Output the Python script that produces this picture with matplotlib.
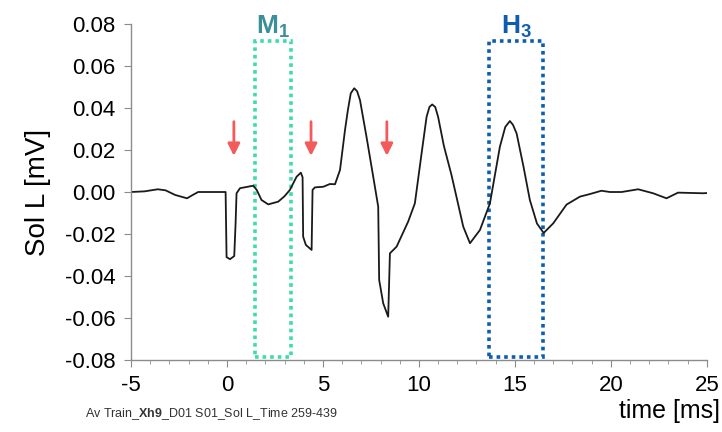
import matplotlib
matplotlib.use("Agg")
import matplotlib.pyplot as plt
from matplotlib.ticker import MultipleLocator
from matplotlib.patches import Rectangle

plt.rcParams['font.family'] = ['Liberation Sans', 'DejaVu Sans']
plt.rcParams['mathtext.fontset'] = 'custom'
plt.rcParams['mathtext.bf'] = 'Liberation Sans:bold'
plt.rcParams['mathtext.rm'] = 'Liberation Sans'
plt.rcParams['axes.unicode_minus'] = False

# averaged trace
time_ms = [-5.0, -4.3, -3.6, -3.2, -2.7, -2.08, -1.8, -1.5, -0.07, -0.02, 0.16, 0.38,
           0.45, 0.5, 0.68, 1.37, 1.55, 1.8, 2.15, 2.67, 3.0, 3.28, 3.63, 3.85, 3.94,
           3.97, 4.11, 4.41, 4.46, 4.58, 5.02, 5.36, 5.63, 5.89, 6.15, 6.3, 6.45, 6.63,
           6.78, 6.93, 7.27, 7.62, 7.88, 7.93, 8.14, 8.40, 8.49, 8.84, 9.44, 9.79, 10.14,
           10.40, 10.55, 10.69, 10.85, 11.0, 11.3, 11.7, 12.31, 12.66, 13.18, 13.70, 14.22,
           14.5, 14.74, 14.9, 15.09, 15.45, 15.78, 16.15, 16.5, 17.0, 17.69, 18.39, 18.9,
           19.51, 19.95, 20.56, 21.42, 22.2, 22.9, 23.5, 24.8, 25.0]
sol_mv = [0.0, 0.0003, 0.0013, 0.0008, -0.0014, -0.003, -0.0015, 0.0, 0.0, -0.031, -0.032, -0.0305,
          -0.015, -0.0006, 0.0018, 0.003, 0.001, -0.0038, -0.0059, -0.0046, -0.002, 0.001, 0.0073, 0.0092, 0.007,
          -0.0213, -0.0252, -0.0276, 0.001, 0.0022, 0.0025, 0.0038, 0.0037, 0.0105, 0.0295, 0.039, 0.047, 0.0494,
          0.048, 0.0438, 0.0263, 0.0073, -0.007, -0.0419, -0.053, -0.0594, -0.0292, -0.026, -0.0141, -0.0054, 0.0184,
          0.0358, 0.0405, 0.0417, 0.0405, 0.0358, 0.022, 0.008, -0.0165, -0.0244, -0.0181, -0.0054, 0.0216,
          0.031, 0.0338, 0.032, 0.0279, 0.012, -0.0038, -0.015, -0.0195, -0.0149, -0.006, -0.0022, -0.001,
          0.0006, 0.0, 0.0, 0.0013, -0.0006, -0.003, -0.0003, -0.0006, -0.0005]

# stimulus arrows
arrow_x = [0.36, 4.38, 8.33]

# analysis windows
windows = ['M', 'H']
window_sub = ['1', '3']
window_start = [1.46, 13.66]
window_end = [3.32, 16.48]
window_color = ['#3fdcaa', '#0d5fae']
label_color = ['#3a9098', '#0d5fae']

gray = '#8c8c8c'

fig = plt.figure(figsize=(7.22, 4.32), dpi=100)
ax = fig.add_axes([0.1814, 0.1667, 0.7976, 0.7777])

ax.plot(time_ms, sol_mv, color='#1a1a1a', lw=1.3)

for i in range(len(windows)):
    rect = Rectangle((window_start[i], -0.0785), window_end[i] - window_start[i], 0.0785 + 0.0718,
                     fill=False, ec=window_color[i], lw=2.6, ls=(0, (1, 1.1)), clip_on=False)
    ax.add_patch(rect)
    ax.text((window_start[i] + window_end[i]) / 2, 0.0755,
            r'$\mathbf{%s}_\mathbf{%s}$' % (windows[i], window_sub[i]),
            color=label_color[i], fontsize=19, ha='center', va='baseline', clip_on=False)

for x in arrow_x:
    ax.annotate('', xy=(x, 0.0172), xytext=(x, 0.0335),
                arrowprops=dict(arrowstyle='-|>', color='#f35b5b', lw=2.0,
                                mutation_scale=18, shrinkA=0, shrinkB=0))

ax.set_xlim(-5, 25)
ax.set_ylim(-0.08, 0.08)
ax.xaxis.set_major_locator(MultipleLocator(5))
ax.xaxis.set_minor_locator(MultipleLocator(1))
ax.yaxis.set_major_locator(MultipleLocator(0.02))
ax.yaxis.set_major_formatter(plt.FormatStrFormatter('%.2f'))

for s in ['top', 'right']:
    ax.spines[s].set_visible(False)
for s in ['left', 'bottom']:
    ax.spines[s].set_color(gray)
    ax.spines[s].set_linewidth(1.0)

ax.tick_params(axis='both', which='major', length=5, color=gray, labelsize=16, pad=6)
ax.tick_params(axis='x', which='minor', length=3, color=gray)
ax.set_ylabel('Sol L [mV]', fontsize=20, labelpad=10)

fig.text(0.997, 0.033, 'time [ms]', fontsize=18, ha='right', va='baseline')

# footer with bold part
fig.text(85 / 722, 0.035, r'Av Train_$\mathbf{Xh9}$_D01 S01_Sol L_Time 259-439',
         fontsize=9, color='#333333', ha='left', va='baseline')

fig.savefig('out.png', dpi=100)
